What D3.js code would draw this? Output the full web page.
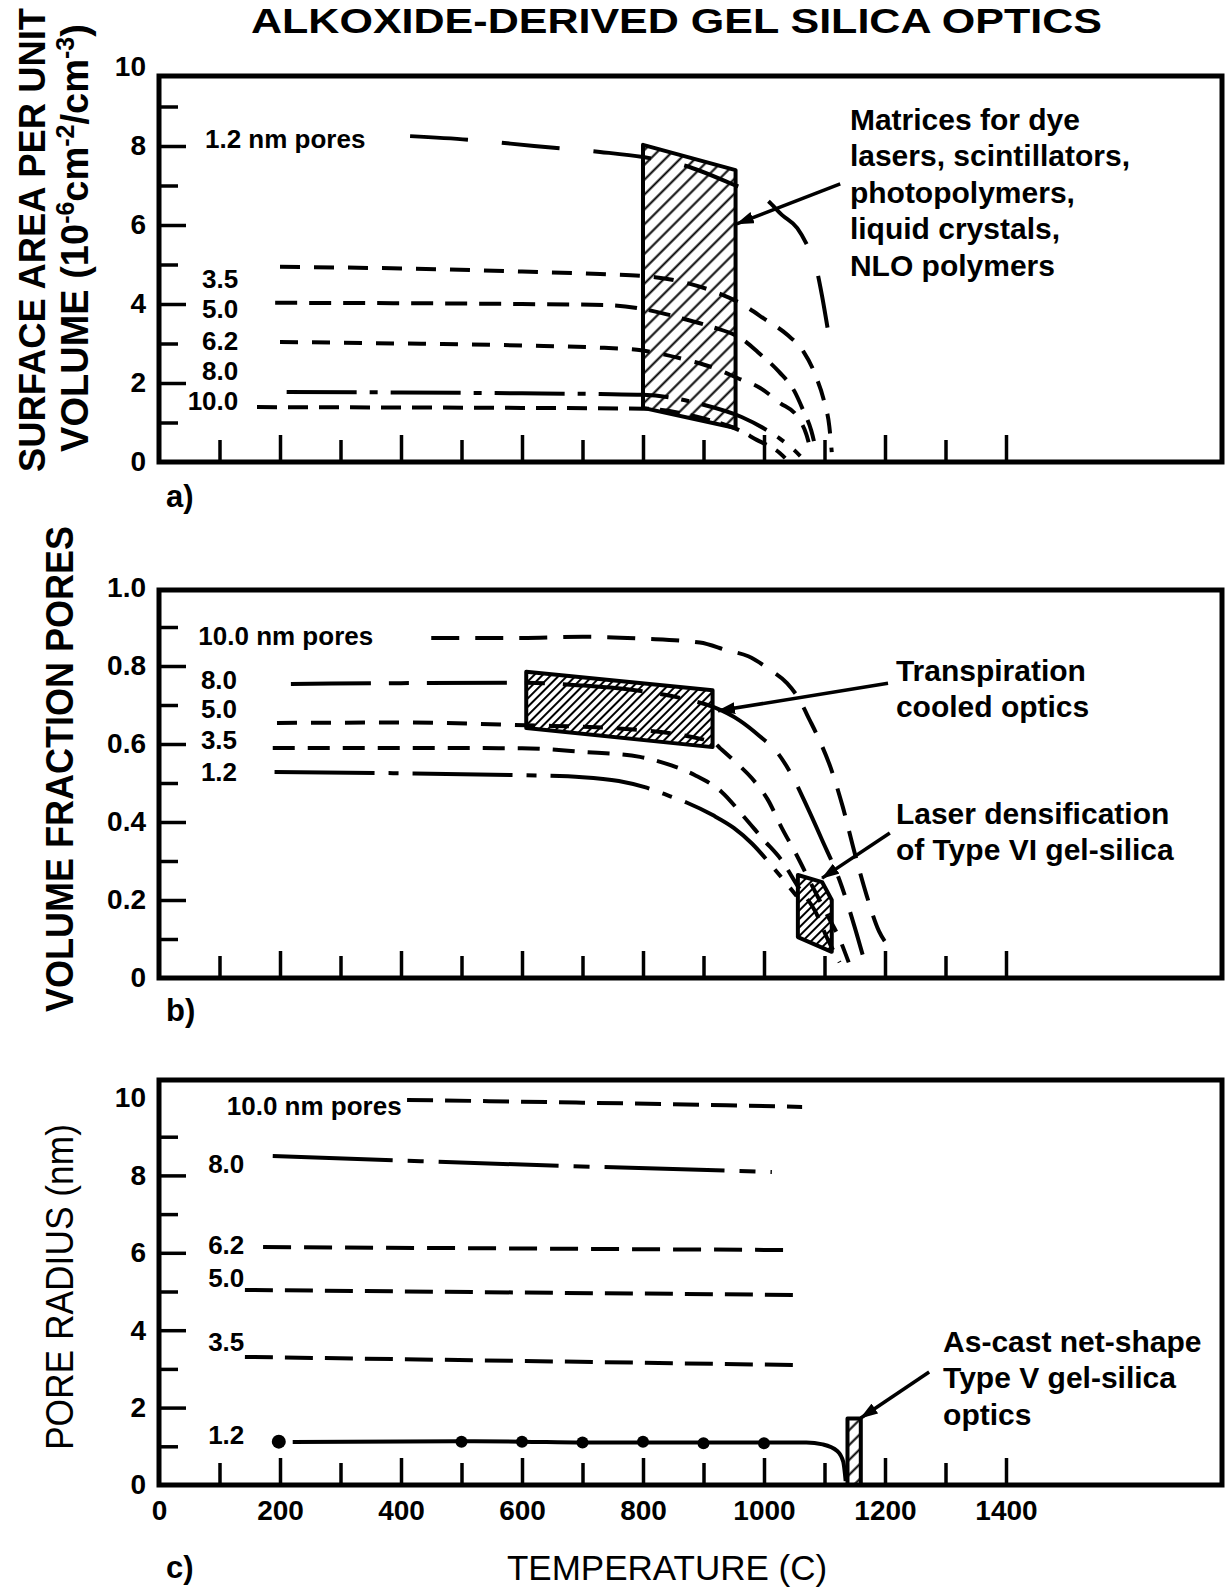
<!DOCTYPE html>
<html>
<head>
<meta charset="utf-8">
<script src="https://cdn.jsdelivr.net/npm/d3@7"></script>
<style>
  body { margin: 0; background: #fff; }
  text { font-family: "Liberation Sans", Arial, Helvetica, sans-serif; font-weight: bold; fill: #000; }
</style>
</head>
<body>
<div id="chart"></div>
<script>
// ---- data (temperature in C) ----
const tempTicks = d3.range(100, 1500, 100);
const tempLabels = [0, 200, 400, 600, 800, 1000, 1200, 1400];

// a) surface area per unit volume (10^-6 cm^-2 / cm^-3)
const aT12 = [415, 520, 620, 729, 800, 870, 945, 1005, 1030, 1055, 1071, 1085, 1096, 1105];
const aV12 = [8.25, 8.15, 8.0, 7.85, 7.72, 7.5, 7.05, 6.63, 6.25, 5.92, 5.5, 5.0, 4.2, 3.4];
const aT35 = [200, 400, 600, 729, 820, 865, 920, 963, 1000, 1040, 1065, 1085, 1100, 1108, 1112];
const aV35 = [4.94, 4.9, 4.82, 4.76, 4.68, 4.56, 4.3, 4.0, 3.63, 3.2, 2.8, 2.2, 1.5, 0.9, 0.25];
const aT50 = [192, 400, 600, 745, 790, 831, 873, 914, 965, 990, 1025, 1050, 1065, 1078, 1086];
const aV50 = [4.03, 4.02, 4.0, 3.97, 3.9, 3.77, 3.6, 3.42, 3.1, 2.78, 2.28, 1.8, 1.3, 0.8, 0.3];
const aT62 = [200, 400, 600, 736, 790, 873, 914, 957, 993, 1026, 1055, 1070, 1078];
const aV62 = [3.04, 3.0, 2.95, 2.89, 2.84, 2.58, 2.4, 2.12, 1.88, 1.5, 1.15, 0.7, 0.25];
const aT80 = [211, 400, 600, 729, 800, 900, 963, 1000, 1029, 1050, 1060];
const aV80 = [1.77, 1.76, 1.74, 1.72, 1.7, 1.45, 1.14, 0.85, 0.56, 0.3, 0.15];
const aT100 = [162, 400, 600, 800, 900, 965, 988, 1005, 1026, 1035];
const aV100 = [1.39, 1.38, 1.37, 1.35, 1.1, 0.76, 0.56, 0.43, 0.23, 0.1];
const aBoxT = [800, 953, 953, 800];
const aBoxV = [8.03, 7.39, 0.86, 1.37];

// b) volume fraction pores
const bT100 = [450, 600, 700, 800, 894, 939, 974, 1010, 1038, 1056, 1076, 1093, 1110, 1130, 1150, 1170, 1190, 1207];
const bV100 = [0.872, 0.872, 0.875, 0.87, 0.86, 0.84, 0.825, 0.79, 0.756, 0.72, 0.66, 0.605, 0.54, 0.44, 0.32, 0.21, 0.12, 0.08];
const bT80 = [218, 400, 607, 700, 800, 870, 916, 960, 993, 1021, 1046, 1071, 1096, 1125, 1150, 1163];
const bV80 = [0.754, 0.756, 0.757, 0.75, 0.735, 0.715, 0.695, 0.66, 0.62, 0.58, 0.52, 0.44, 0.354, 0.25, 0.13, 0.06];
const bT50 = [195, 400, 607, 760, 916, 927, 952, 980, 1006, 1030, 1053, 1080, 1105, 1125, 1140];
const bV50 = [0.654, 0.655, 0.648, 0.64, 0.605, 0.59, 0.555, 0.512, 0.458, 0.383, 0.318, 0.235, 0.16, 0.1, 0.04];
const bT35 = [188, 400, 600, 700, 795, 847, 886, 930, 966, 999, 1030, 1056, 1085, 1105, 1125];
const bV35 = [0.59, 0.59, 0.589, 0.58, 0.567, 0.545, 0.52, 0.477, 0.415, 0.355, 0.3, 0.235, 0.17, 0.1, 0.04];
const bT12 = [191, 400, 600, 700, 760, 806, 845, 872, 916, 950, 980, 1017, 1054];
const bV12 = [0.528, 0.525, 0.52, 0.515, 0.505, 0.488, 0.466, 0.45, 0.417, 0.385, 0.345, 0.28, 0.21];
const bBoxT = [607, 915, 915, 607];
const bBoxV = [0.785, 0.738, 0.592, 0.641];
const bLaserT = [1056, 1096, 1112, 1112, 1056];
const bLaserV = [0.264, 0.246, 0.2, 0.067, 0.105];

// c) pore radius (nm)
const cT100 = [410, 700, 1063];
const cV100 = [9.95, 9.88, 9.77];
const cT80 = [188, 600, 1013];
const cV80 = [8.5, 8.28, 8.09];
const cT62 = [172, 1050];
const cV62 = [6.15, 6.07];
const cT50 = [142, 1050];
const cV50 = [5.04, 4.91];
const cT35 = [142, 1053];
const cV35 = [3.31, 3.10];
const cT12 = [221, 500, 600, 700, 800, 900, 1000, 1070, 1097, 1121, 1131, 1135];
const cV12 = [1.11, 1.13, 1.12, 1.1, 1.1, 1.1, 1.1, 1.1, 1.05, 0.88, 0.6, 0.1];
const cDotT = [198, 500, 600, 700, 800, 900, 1000];
const cDotV = [1.12, 1.12, 1.12, 1.1, 1.12, 1.08, 1.08];
const cBoxT = [1138, 1160, 1160, 1138];
const cBoxV = [0, 0, 1.72, 1.72];

// ---- layout ----
const width = 1226, height = 1588;
const frameRight = 1222;

const svg = d3.select("#chart").append("svg")
    .attr("width", width)
    .attr("height", height);

const defs = svg.append("defs");
function hatch(id, gap) {
  const p = defs.append("pattern")
      .attr("id", id)
      .attr("patternUnits", "userSpaceOnUse")
      .attr("width", gap).attr("height", gap)
      .attr("patternTransform", "rotate(45)");
  p.append("line")
      .attr("x1", gap / 2).attr("y1", 0)
      .attr("x2", gap / 2).attr("y2", gap)
      .attr("stroke", "#000").attr("stroke-width", 2);
}
hatch("hatchWide", 10.5);
hatch("hatchDense", 6);
defs.append("marker")
    .attr("id", "arrow")
    .attr("markerUnits", "userSpaceOnUse")
    .attr("markerWidth", 18).attr("markerHeight", 12)
    .attr("refX", 17).attr("refY", 6)
    .attr("orient", "auto")
  .append("path")
    .attr("d", "M0,0L18,6L0,12z")
    .attr("fill", "#000");

const x = d3.scaleLinear().domain([0, 1400]).range([159, 1006]);

const panels = [
  {
    key: "a)", letterY: 507,
    y: d3.scaleLinear().domain([0, 10]).range([462, 67]), frameTop: 76,
    major: [0, 2, 4, 6, 8, 10], minor: [1, 3, 5, 7, 9], fmt: d => d,
    curves: [
      {t: aT12, v: aV12, dash: "58,34"},
      {t: aT35, v: aV35, dash: "20,14"},
      {t: aT50, v: aV50, dash: "22,12"},
      {t: aT62, v: aV62, dash: "18,14"},
      {t: aT80, v: aV80, dash: "70,13,8,13"},
      {t: aT100, v: aV100, dash: "20,11"}
    ],
    boxes: [{t: aBoxT, v: aBoxV, fill: "url(#hatchWide)"}],
    labels: [
      {text: "1.2 nm pores", t: 76, v: 7.95, anchor: "start"},
      {text: "3.5", t: 131, v: 4.41, anchor: "end"},
      {text: "5.0", t: 131, v: 3.65, anchor: "end"},
      {text: "6.2", t: 131, v: 2.84, anchor: "end"},
      {text: "8.0", t: 131, v: 2.08, anchor: "end"},
      {text: "10.0", t: 131, v: 1.32, anchor: "end"}
    ],
    notes: [
      {lines: ["Matrices for dye", "lasers, scintillators,", "photopolymers,", "liquid crystals,", "NLO polymers"],
       t: 1142, v: 8.41, from: [1126, 7.04], to: [955, 6.03]}
    ]
  },
  {
    key: "b)", letterY: 1021,
    y: d3.scaleLinear().domain([0, 1]).range([978, 588]), frameTop: 590,
    major: [0, 0.2, 0.4, 0.6, 0.8, 1.0], minor: [0.1, 0.3, 0.5, 0.7, 0.9],
    fmt: d => d === 0 ? "0" : d.toFixed(1),
    curves: [
      {t: bT100, v: bV100, dash: "28,16"},
      {t: bT80, v: bV80, dash: "80,18,20,18"},
      {t: bT50, v: bV50, dash: "20,14"},
      {t: bT35, v: bV35, dash: "22,13"},
      {t: bT12, v: bV12, dash: "100,14,10,14"}
    ],
    boxes: [
      {t: bBoxT, v: bBoxV, fill: "url(#hatchDense)"},
      {t: bLaserT, v: bLaserV, fill: "url(#hatchDense)"}
    ],
    labels: [
      {text: "10.0 nm pores", t: 65, v: 0.854, anchor: "start"},
      {text: "8.0", t: 129, v: 0.742, anchor: "end"},
      {text: "5.0", t: 129, v: 0.667, anchor: "end"},
      {text: "3.5", t: 129, v: 0.587, anchor: "end"},
      {text: "1.2", t: 129, v: 0.505, anchor: "end"}
    ],
    notes: [
      {lines: ["Transpiration", "cooled optics"], t: 1218, v: 0.762, from: [1205, 0.756], to: [924, 0.685]},
      {lines: ["Laser densification", "of Type VI gel-silica"], t: 1218, v: 0.395, from: [1208, 0.372], to: [1096, 0.256]}
    ]
  },
  {
    key: "c)", letterY: 1578,
    y: d3.scaleLinear().domain([0, 10]).range([1485, 1098]), frameTop: 1080,
    major: [0, 2, 4, 6, 8, 10], minor: [1, 3, 5, 7, 9], fmt: d => d,
    curves: [
      {t: cT100, v: cV100, dash: "26,12"},
      {t: cT80, v: cV80, dash: "120,15,16,15"},
      {t: cT62, v: cV62, dash: "28,13"},
      {t: cT50, v: cV50, dash: "28,12"},
      {t: cT35, v: cV35, dash: "28,12"},
      {t: cT12, v: cV12, dash: null}
    ],
    boxes: [{t: cBoxT, v: cBoxV, fill: "url(#hatchWide)"}],
    dots: {t: cDotT, v: cDotV},
    labels: [
      {text: "10.0 nm pores", t: 112, v: 9.56, anchor: "start"},
      {text: "8.0", t: 141, v: 8.06, anchor: "end"},
      {text: "6.2", t: 141, v: 5.97, anchor: "end"},
      {text: "5.0", t: 141, v: 5.12, anchor: "end"},
      {text: "3.5", t: 141, v: 3.46, anchor: "end"},
      {text: "1.2", t: 141, v: 1.06, anchor: "end"}
    ],
    notes: [
      {lines: ["As-cast net-shape", "Type V gel-silica", "optics"], t: 1296, v: 3.44, from: [1273, 2.92], to: [1160, 1.73]}
    ],
    xLabels: true
  }
];

panels.forEach(function(p) {
  const y = p.y;
  const g = svg.append("g");
  const y0 = y(0);

  // curves
  const line = d3.line()
      .x(d => x(d[0]))
      .y(d => y(d[1]))
      .curve(d3.curveMonotoneX);

  // hatched regions
  p.boxes.forEach(function(b) {
    g.append("path")
        .attr("d", "M" + d3.zip(b.t, b.v).map(d => x(d[0]) + "," + y(d[1])).join("L") + "Z")
        .attr("fill", b.fill)
        .attr("stroke", "#000")
        .attr("stroke-width", 4)
        .attr("stroke-linejoin", "round");
  });

  p.curves.forEach(function(c) {
    g.append("path")
        .datum(d3.zip(c.t, c.v))
        .attr("d", line)
        .attr("fill", "none")
        .attr("stroke", "#000")
        .attr("stroke-width", 4)
        .attr("stroke-dasharray", c.dash);
  });

  if (p.dots) {
    g.selectAll(".dot")
        .data(d3.zip(p.dots.t, p.dots.v))
        .enter().append("circle")
        .attr("cx", d => x(d[0]))
        .attr("cy", d => y(d[1]))
        .attr("r", (d, i) => i === 0 ? 7 : 6)
        .attr("fill", "#000");
  }

  // frame
  g.append("rect")
      .attr("x", x(0))
      .attr("y", p.frameTop)
      .attr("width", frameRight - x(0))
      .attr("height", y0 - p.frameTop)
      .attr("fill", "none")
      .attr("stroke", "#000")
      .attr("stroke-width", 5);

  // y axis: major ticks with labels, minor ticks without
  const top = p.major[p.major.length - 1];
  const yMaj = g.append("g")
      .attr("transform", "translate(" + x(0) + ",0)")
      .call(d3.axisLeft(y).tickValues(p.major).tickSizeInner(-27).tickSizeOuter(0)
          .tickPadding(13).tickFormat(p.fmt));
  const yMin = g.append("g")
      .attr("transform", "translate(" + x(0) + ",0)")
      .call(d3.axisLeft(y).tickValues(p.minor).tickSizeInner(-19).tickSizeOuter(0)
          .tickFormat(""));
  yMaj.selectAll(".tick line").filter(d => d === 0 || d === top).remove();

  // x axis: small upward ticks every 100 C
  const xEven = g.append("g")
      .attr("transform", "translate(0," + y0 + ")")
      .call(d3.axisBottom(x).tickValues(tempTicks.filter(d => d % 200 === 0))
          .tickSizeInner(-27).tickSizeOuter(0).tickFormat(""));
  const xOdd = g.append("g")
      .attr("transform", "translate(0," + y0 + ")")
      .call(d3.axisBottom(x).tickValues(tempTicks.filter(d => d % 200 !== 0))
          .tickSizeInner(-22).tickSizeOuter(0).tickFormat(""));

  [yMaj, yMin, xEven, xOdd].forEach(function(ax) {
    ax.select(".domain").remove();
    ax.selectAll(".tick line").attr("stroke-width", 3.5);
    ax.attr("font-size", 28).attr("font-family", null);
  });

  if (p.xLabels) {
    const xl = g.append("g")
        .attr("transform", "translate(0," + y0 + ")")
        .call(d3.axisBottom(x).tickValues(tempLabels).tickSize(0).tickPadding(15)
            .tickFormat(d3.format("d")));
    xl.select(".domain").remove();
    xl.attr("font-size", 28).attr("font-family", null);
  }

  // series labels
  p.labels.forEach(function(l) {
    g.append("text")
        .attr("x", x(l.t))
        .attr("y", y(l.v))
        .attr("text-anchor", l.anchor)
        .attr("font-size", 26)
        .text(l.text);
  });

  // annotations with arrows
  p.notes.forEach(function(n) {
    const t = g.append("text")
        .attr("x", x(n.t))
        .attr("y", y(n.v))
        .attr("font-size", 30);
    n.lines.forEach(function(s, i) {
      t.append("tspan")
          .attr("x", x(n.t))
          .attr("dy", i === 0 ? 0 : 36.5)
          .text(s);
    });
    g.append("line")
        .attr("x1", x(n.from[0])).attr("y1", y(n.from[1]))
        .attr("x2", x(n.to[0])).attr("y2", y(n.to[1]))
        .attr("stroke", "#000")
        .attr("stroke-width", 3.5)
        .attr("marker-end", "url(#arrow)");
  });

  // panel letter
  g.append("text")
      .attr("x", 166)
      .attr("y", p.letterY)
      .attr("font-size", 31)
      .text(p.key);
});

// title and axis titles
svg.append("text")
    .attr("x", 251)
    .attr("y", 33)
    .attr("font-size", 35)
    .attr("textLength", 851)
    .attr("lengthAdjust", "spacingAndGlyphs")
    .text("ALKOXIDE-DERIVED GEL SILICA OPTICS");

svg.append("text")
    .attr("transform", "translate(45,240) rotate(-90)")
    .attr("text-anchor", "middle")
    .attr("font-size", 37)
    .attr("textLength", 464)
    .attr("lengthAdjust", "spacingAndGlyphs")
    .text("SURFACE AREA PER UNIT");

const vol = svg.append("text")
    .attr("transform", "translate(88,238) rotate(-90)")
    .attr("text-anchor", "middle")
    .attr("font-size", 38);
vol.append("tspan").text("VOLUME (10");
vol.append("tspan").attr("dy", -14).attr("font-size", 25).text("-6");
vol.append("tspan").attr("dy", 14).text("cm");
vol.append("tspan").attr("dy", -14).attr("font-size", 25).text("-2");
vol.append("tspan").attr("dy", 14).text("/cm");
vol.append("tspan").attr("dy", -14).attr("font-size", 25).text("-3");
vol.append("tspan").attr("dy", 14).text(")");

svg.append("text")
    .attr("transform", "translate(73,769) rotate(-90)")
    .attr("text-anchor", "middle")
    .attr("font-size", 39)
    .attr("textLength", 486)
    .attr("lengthAdjust", "spacingAndGlyphs")
    .text("VOLUME FRACTION PORES");

svg.append("text")
    .attr("transform", "translate(73,1287) rotate(-90)")
    .attr("text-anchor", "middle")
    .attr("font-size", 38)
    .style("font-weight", "normal")
    .attr("textLength", 326)
    .attr("lengthAdjust", "spacingAndGlyphs")
    .text("PORE RADIUS (nm)");

svg.append("text")
    .attr("x", 667)
    .attr("y", 1580)
    .attr("text-anchor", "middle")
    .attr("font-size", 35)
    .style("font-weight", "normal")
    .text("TEMPERATURE (C)");
</script>
</body>
</html>
